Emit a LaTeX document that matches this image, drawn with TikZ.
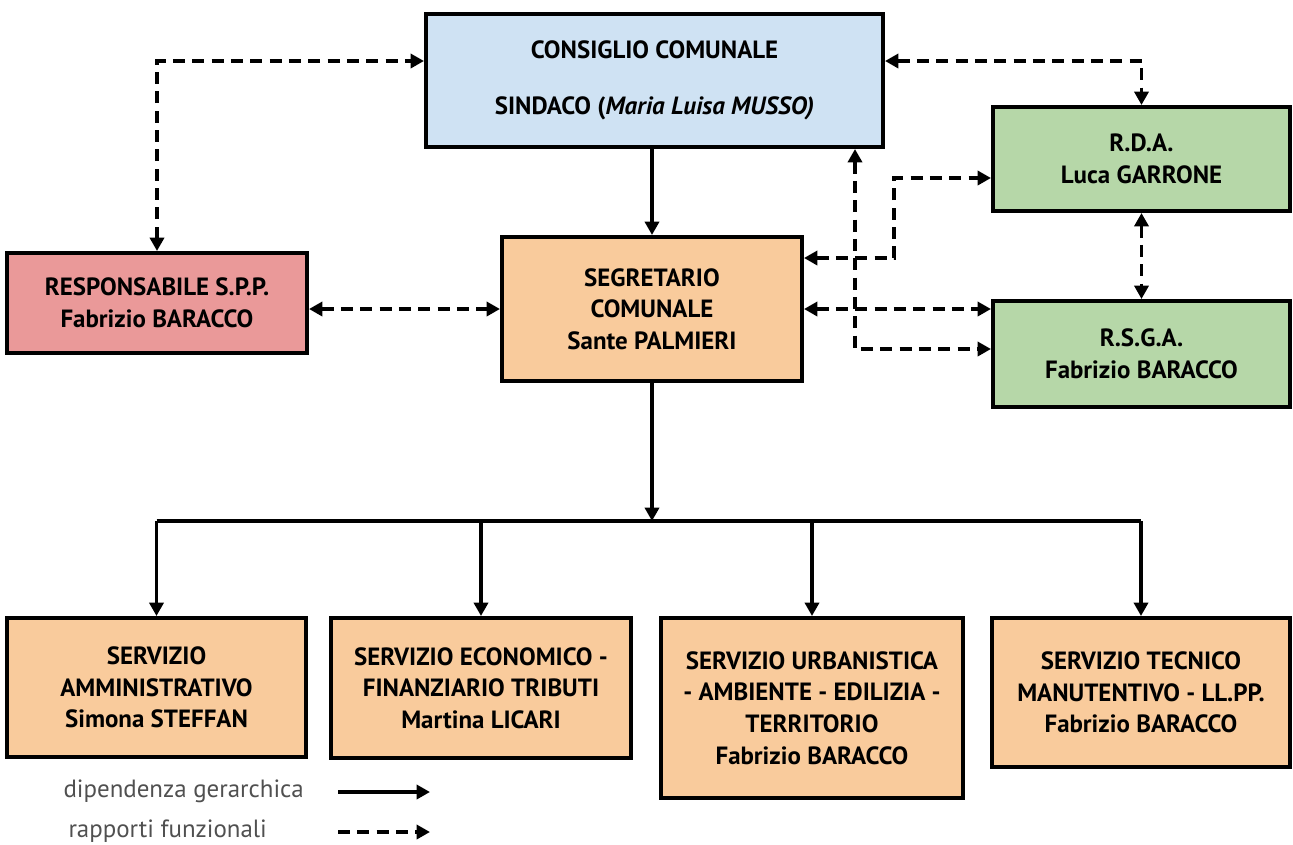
\documentclass[tikz,border=0pt]{standalone}
\usepackage{fontspec}
\setmainfont{PT Sans}
\usetikzlibrary{arrows.meta}

\definecolor{cblue}{RGB}{207,226,243}
\definecolor{cgreen}{RGB}{182,215,168}
\definecolor{corange}{RGB}{249,203,156}
\definecolor{cpink}{RGB}{234,153,153}
\definecolor{cgrey}{RGB}{80,80,80}

\tikzset{every picture/.style={line width=0.75pt}}
\tikzset{
  box/.style={draw, line width=3pt, align=center, inner sep=0pt,
    font=\bfseries\fontsize{18.7}{23.8}\selectfont},
  dep/.style={line width=2.8pt, -{Triangle[length=10pt,width=10.5pt]}},
  fnc/.style={line width=2.8pt, dash pattern=on 9pt off 5.5pt},
  tip/.style={{Triangle[length=10pt,width=10.5pt]}-{Triangle[length=10pt,width=10.5pt]}},
  legend/.style={anchor=west, inner sep=0pt, text=cgrey,
    font=\fontsize{18.7}{22}\selectfont}
}

\begin{document}
\begin{tikzpicture}[x=0.75pt,y=0.75pt,yscale=-1,xscale=1]
\useasboundingbox (0,0) rectangle (1293,844);

% Boxes
\node [box, fill=cblue, minimum width=342.75pt, minimum height=99.75pt] (consiglio) at (654.5,80.5) {CONSIGLIO COMUNALE\\[18pt] SINDACO (\textit{Maria Luisa MUSSO)}};
\node [box, fill=cgreen, minimum width=222.75pt, minimum height=78pt] (rda) at (1141.5,159) {R.D.A.\\ Luca GARRONE};
\node [box, fill=cgreen, minimum width=222.75pt, minimum height=79.5pt] (rsga) at (1141.5,354) {R.S.G.A.\\ Fabrizio BARACCO};
\node [box, fill=corange, minimum width=225pt, minimum height=108pt] (segr) at (652,309) {SEGRETARIO\\ COMUNALE\\ Sante PALMIERI};
\node [box, fill=cpink, minimum width=225pt, minimum height=75pt] (resp) at (157,303) {RESPONSABILE S.P.P.\\ Fabrizio BARACCO};

% Servizi
\node [box, fill=corange, minimum width=224.25pt, minimum height=104.25pt] (serv1) at (156.5,687.5) {SERVIZIO\\ AMMINISTRATIVO\\ Simona STEFFAN};
\node [box, fill=corange, minimum width=225pt, minimum height=105pt] (serv2) at (481,688) {SERVIZIO ECONOMICO -\\ FINANZIARIO TRIBUTI\\ Martina LICARI};
\node [box, fill=corange, minimum width=226.5pt, minimum height=135pt] (serv3) at (812,708) {SERVIZIO URBANISTICA\\ - AMBIENTE - EDILIZIA -\\ TERRITORIO\\ Fabrizio BARACCO};
\node [box, fill=corange, minimum width=223.5pt, minimum height=111.75pt] (serv4) at (1141,692.5) {SERVIZIO TECNICO\\ MANUTENTIVO - LL.PP.\\ Fabrizio BARACCO};

% Bends of the dashed lines
\coordinate (topline) at (0,61);
\coordinate (elbowA) at (894,258);
\coordinate (elbowB) at (894,178);
\coordinate (elbowC) at (855,349);
\coordinate (bus) at (652,521);

% Rapporti funzionali
\draw [fnc, tip] (resp.north) |- (topline -| consiglio.west);
\draw [fnc, tip] (topline -| consiglio.east) -| (rda.north);
\draw [fnc, tip] (rda.south) -- (rsga.north);
\draw [fnc, tip] (segr.west -| resp.east) -- (segr.west);
\draw [fnc, tip] (segr.east) -- (segr.east -| rsga.west);
\draw [fnc, tip] (elbowA -| segr.east) -- (elbowA) -- (elbowB) -- (elbowB -| rda.west);
\draw [fnc, tip] (elbowC |- consiglio.south) -- (elbowC) -- (elbowC -| rsga.west);

% Dipendenza gerarchica
\draw [dep] (segr.north |- consiglio.south) -- (segr.north);
\draw [dep] (segr.south) -- (bus);
\draw [line width=2.8pt] (serv1.north |- bus) -- (serv4.north |- bus);
\foreach \s in {serv1,serv2,serv3,serv4}
  \draw [dep] (\s.north |- bus) -- (\s.north);

% Legend
\node [legend] (legdep) at (63,791) {dipendenza gerarchica};
\node [legend] (legfnc) at (68,831) {rapporti funzionali};
\coordinate (depS) at (338,792);
\coordinate (depE) at (430,792);
\coordinate (fncS) at (338,832);
\coordinate (fncE) at (430,832);
\draw [dep] (depS) -- (depE);
\draw [fnc, -{Triangle[length=10pt,width=10.5pt]}] (fncS) -- (fncE);

\end{tikzpicture}
\end{document}
